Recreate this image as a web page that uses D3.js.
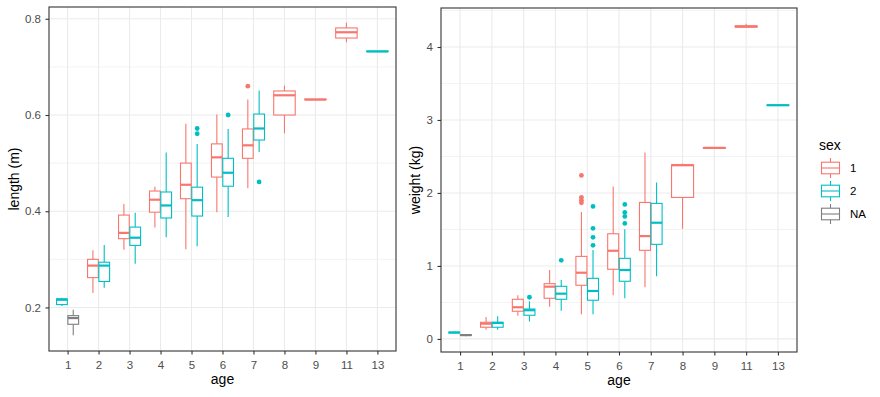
<!DOCTYPE html>
<html>
<head>
<meta charset="utf-8">
<script src="https://cdn.jsdelivr.net/npm/d3@7"></script>
<style>
body { margin: 0; background: #fff; }
text { font-family: "Liberation Sans", Arial, sans-serif; }
</style>
</head>
<body>
<script>
var ages = ['1', '2', '3', '4', '5', '6', '7', '8', '9', '11', '13'];
var sexes = ['1', '2', 'NA'];
var sexColors = ['#F8766D', '#00BFC4', '#7F7F7F'];

// age, sex, lower whisker, q1, median, q3, upper whisker
var lengthBoxes = [
    ['1', '2', 0.203, 0.206, 0.216, 0.218, 0.220],
    ['1', 'NA', 0.142, 0.165, 0.178, 0.183, 0.195],
    ['2', '1', 0.230, 0.262, 0.287, 0.300, 0.319],
    ['2', '2', 0.241, 0.254, 0.287, 0.294, 0.330],
    ['3', '1', 0.320, 0.343, 0.355, 0.392, 0.415],
    ['3', '2', 0.291, 0.329, 0.345, 0.367, 0.397],
    ['4', '1', 0.366, 0.398, 0.424, 0.442, 0.451],
    ['4', '2', 0.346, 0.386, 0.412, 0.440, 0.522],
    ['5', '1', 0.321, 0.426, 0.455, 0.500, 0.582],
    ['5', '2', 0.327, 0.390, 0.423, 0.450, 0.540],
    ['6', '1', 0.398, 0.471, 0.512, 0.540, 0.601],
    ['6', '2', 0.388, 0.452, 0.480, 0.510, 0.571],
    ['7', '1', 0.448, 0.510, 0.537, 0.571, 0.632],
    ['7', '2', 0.523, 0.548, 0.572, 0.602, 0.651],
    ['8', '1', 0.562, 0.600, 0.641, 0.650, 0.661],
    ['9', '1', 0.632, 0.632, 0.632, 0.633, 0.633],
    ['11', '1', 0.751, 0.760, 0.772, 0.781, 0.792],
    ['13', '2', 0.732, 0.732, 0.732, 0.733, 0.733]
];
var lengthOutliers = [
    ['5', '2', 0.572], ['5', '2', 0.561], ['6', '2', 0.600],
    ['7', '1', 0.660], ['7', '2', 0.461]
];

var weightBoxes = [
    ['1', '2', 0.078, 0.082, 0.088, 0.092, 0.095],
    ['1', 'NA', 0.035, 0.048, 0.052, 0.056, 0.060],
    ['2', '1', 0.127, 0.160, 0.209, 0.228, 0.301],
    ['2', '2', 0.127, 0.160, 0.219, 0.228, 0.310],
    ['3', '1', 0.319, 0.379, 0.434, 0.543, 0.598],
    ['3', '2', 0.237, 0.324, 0.393, 0.410, 0.516],
    ['4', '1', 0.442, 0.557, 0.716, 0.757, 0.944],
    ['4', '2', 0.387, 0.543, 0.620, 0.721, 0.807],
    ['5', '1', 0.338, 0.735, 0.907, 1.131, 1.738],
    ['5', '2', 0.338, 0.530, 0.657, 0.830, 1.218],
    ['6', '1', 0.598, 0.954, 1.208, 1.441, 2.089],
    ['6', '2', 0.557, 0.790, 0.944, 1.104, 1.501],
    ['7', '1', 0.707, 1.214, 1.409, 1.870, 2.555],
    ['7', '2', 0.858, 1.296, 1.592, 1.857, 2.144],
    ['8', '1', 1.510, 1.939, 2.380, 2.385, 2.404],
    ['9', '1', 2.610, 2.612, 2.618, 2.622, 2.625],
    ['11', '1', 4.270, 4.272, 4.280, 4.290, 4.320],
    ['13', '2', 3.198, 3.199, 3.202, 3.205, 3.206]
];
var weightOutliers = [
    ['3', '2', 0.571], ['4', '2', 1.077],
    ['5', '1', 2.240], ['5', '1', 1.940], ['5', '1', 1.900], ['5', '1', 1.865],
    ['5', '2', 1.816], ['5', '2', 1.515], ['5', '2', 1.392], ['5', '2', 1.282],
    ['6', '2', 1.843], ['6', '2', 1.734], ['6', '2', 1.679], ['6', '2', 1.583]
];

var lengthTicks = [0.2, 0.4, 0.6, 0.8];
var lengthMinor = [0.1, 0.3, 0.5, 0.7, 0.9];
var weightTicks = [0, 1, 2, 3, 4];
var weightMinor = [-0.5, 0.5, 1.5, 2.5, 3.5, 4.5];

var svg = d3.select('body').append('svg')
    .attr('width', 880)
    .attr('height', 397);

var color = d3.scaleOrdinal().domain(sexes).range(sexColors);

function drawPanel(p) {
    var g = svg.append('g');

    var x = d3.scalePoint().domain(ages).range([p.left, p.right]).padding(0.6);
    var lo = d3.min(p.boxes, function(d) { return d[2]; });
    var hi = d3.max(p.boxes, function(d) { return d[6]; });
    lo = Math.min(lo, d3.min(p.outliers, function(d) { return d[2]; }));
    hi = Math.max(hi, d3.max(p.outliers, function(d) { return d[2]; }));
    var pad = (hi - lo) * 0.05;
    var y = d3.scaleLinear().domain([lo - pad, hi + pad]).range([p.bottom, p.top]);

    // grid
    var minor = p.minor.filter(function(v) { return v > y.domain()[0] && v < y.domain()[1]; });
    g.selectAll('.minor').data(minor).enter().append('line')
        .attr('x1', p.left).attr('x2', p.right)
        .attr('y1', function(d) { return y(d); }).attr('y2', function(d) { return y(d); })
        .attr('stroke', '#EBEBEB').attr('stroke-width', 0.6);
    g.selectAll('.majory').data(p.ticks).enter().append('line')
        .attr('x1', p.left).attr('x2', p.right)
        .attr('y1', function(d) { return y(d); }).attr('y2', function(d) { return y(d); })
        .attr('stroke', '#EBEBEB').attr('stroke-width', 1.1);
    g.selectAll('.majorx').data(ages).enter().append('line')
        .attr('x1', function(d) { return x(d); }).attr('x2', function(d) { return x(d); })
        .attr('y1', p.top).attr('y2', p.bottom)
        .attr('stroke', '#EBEBEB').attr('stroke-width', 1.1);

    // dodge positions
    var groupW = x.step() * 0.73;
    function boxPos(age, sex) {
        var present = p.boxes.filter(function(d) { return d[0] === age; }).map(function(d) { return d[1]; });
        var n = present.length;
        var i = present.indexOf(sex);
        var slot = groupW / n;
        return { cx: x(age) - groupW / 2 + slot * (i + 0.5), w: slot * 0.95 };
    }

    g.selectAll('.box').data(p.boxes).enter().append('g')
        .each(function(d) {
            var b = boxPos(d[0], d[1]);
            var s = d3.select(this);
            var c = color(d[1]);
            // whiskers
            s.append('line')
                .attr('x1', b.cx).attr('x2', b.cx)
                .attr('y1', y(d[6])).attr('y2', y(d[5]))
                .attr('stroke', c).attr('stroke-width', 1.1);
            s.append('line')
                .attr('x1', b.cx).attr('x2', b.cx)
                .attr('y1', y(d[3])).attr('y2', y(d[2]))
                .attr('stroke', c).attr('stroke-width', 1.1);
            s.append('rect')
                .attr('x', b.cx - b.w / 2).attr('width', b.w)
                .attr('y', y(d[5])).attr('height', y(d[3]) - y(d[5]))
                .attr('fill', '#fff').attr('stroke', c).attr('stroke-width', 1.1);
            // median
            s.append('line')
                .attr('x1', b.cx - b.w / 2).attr('x2', b.cx + b.w / 2)
                .attr('y1', y(d[4])).attr('y2', y(d[4]))
                .attr('stroke', c).attr('stroke-width', 2.2);
        });

    g.selectAll('.out').data(p.outliers).enter().append('circle')
        .attr('cx', function(d) { return boxPos(d[0], d[1]).cx; })
        .attr('cy', function(d) { return y(d[2]); })
        .attr('r', 2.4)
        .attr('fill', function(d) { return color(d[1]); });

    // border
    g.append('rect')
        .attr('x', p.left).attr('y', p.top)
        .attr('width', p.right - p.left).attr('height', p.bottom - p.top)
        .attr('fill', 'none').attr('stroke', '#333333').attr('stroke-width', 1.1);

    // axes
    var ya = g.append('g')
        .attr('transform', 'translate(' + p.left + ',0)')
        .call(d3.axisLeft(y).tickValues(p.ticks).tickFormat(p.fmt).tickSize(3.5).tickPadding(4.5));
    var xa = g.append('g')
        .attr('transform', 'translate(0,' + p.bottom + ')')
        .call(d3.axisBottom(x).tickSize(3.5).tickPadding(6.5));
    [ya, xa].forEach(function(a) {
        a.select('.domain').remove();
        a.selectAll('line').attr('stroke', '#333333').attr('stroke-width', 1.1);
        a.selectAll('text').attr('fill', '#4D4D4D').style('font-size', '11.5px')
            .style('font-family', '"Liberation Sans", Arial, sans-serif');
    });

    g.append('text')
        .attr('x', (p.left + p.right) / 2).attr('y', p.bottom + 33)
        .attr('text-anchor', 'middle')
        .style('font-size', '14px')
        .text('age');
    g.append('text')
        .attr('transform', 'translate(' + p.titleX + ',' + (p.top + p.bottom) / 2 + ') rotate(-90)')
        .attr('text-anchor', 'middle')
        .style('font-size', '14px')
        .text(p.title);
}

drawPanel({
    left: 49, right: 396, top: 7, bottom: 351,
    boxes: lengthBoxes, outliers: lengthOutliers,
    ticks: lengthTicks, minor: lengthMinor, fmt: d3.format('.1f'),
    title: 'length (m)', titleX: 19
});

drawPanel({
    left: 441, right: 797, top: 8, bottom: 352,
    boxes: weightBoxes, outliers: weightOutliers,
    ticks: weightTicks, minor: weightMinor, fmt: d3.format('d'),
    title: 'weight (kg)', titleX: 420
});

// legend
var legend = svg.append('g').attr('transform', 'translate(819,150)');
legend.append('text').attr('x', 0).attr('y', 0)
    .style('font-size', '14px').text('sex');

var keys = legend.selectAll('.key').data(sexes).enter().append('g')
    .attr('transform', function(d, i) { return 'translate(0,' + (18 + i * 23) + ')'; });
keys.append('line')
    .attr('x1', 11.5).attr('x2', 11.5).attr('y1', -10).attr('y2', 10)
    .attr('stroke', function(d) { return color(d); }).attr('stroke-width', 1.1);
keys.append('rect')
    .attr('x', 2.5).attr('y', -5.8).attr('width', 18).attr('height', 11.6)
    .attr('fill', '#fff')
    .attr('stroke', function(d) { return color(d); }).attr('stroke-width', 1.1);
keys.append('line')
    .attr('x1', 2.5).attr('x2', 20.5).attr('y1', 0).attr('y2', 0)
    .attr('stroke', function(d) { return color(d); }).attr('stroke-width', 1.1);
keys.append('text')
    .attr('x', 31).attr('y', 4.2)
    .style('font-size', '11.5px')
    .text(function(d) { return d; });
</script>
</body>
</html>
